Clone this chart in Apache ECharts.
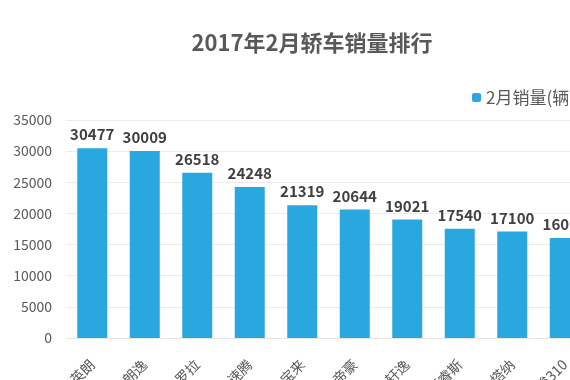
<!doctype html>
<html>

<head>
	<meta charset="utf-8">
	<title>2017年2月轿车销量排行</title>
	<script src="https://cdn.jsdelivr.net/npm/echarts@6/dist/echarts.min.js"></script>
</head>
<style>
	html,
	body {
		margin: 0;
		padding: 0;
		background: #fff;
	}

	#main {
		width: 570px;
		height: 380px;
	}
</style>

<body>
	<div id="main"></div>

	<script>
		// 车型和2月销量
		var cars = ['英朗', '朗逸', '卡罗拉', '速腾', '宝来', '帝豪', '轩逸', '福睿斯', '桑塔纳', '宝骏310']
		var sales = [30477, 30009, 26518, 24248, 21319, 20644, 19021, 17540, 17100, 16068]
		var yTicks = [0, 5000, 10000, 15000, 20000, 25000, 30000, 35000]

		var font = '"Noto Sans CJK SC", "Noto Sans", sans-serif'
		var chart = echarts.init(document.getElementById('main'))
		var option = {
			animation: false,
			title: {
				text: '2017年2月轿车销量排行',
				left: 307,
				textAlign: 'center',
				top: 27,
				textStyle: {
					fontFamily: font,
					fontSize: 22,
					fontWeight: 'bold',
					color: '#595959'
				}
			},
			legend: {
				left: 467,
				top: 84,
				itemWidth: 9,
				itemHeight: 9,
				textStyle: {
					fontFamily: font,
					fontSize: 17,
					color: '#595959'
				},
				data: ['2月销量(辆)']
			},
			grid: {
				left: 66,
				top: 120,
				width: 525,
				height: 218,
				containLabel: false,
				outerBoundsMode: 'none'
			},
			xAxis: {
				type: 'category',
				data: cars,
				axisLine: { show: true, lineStyle: { color: '#e6e6e6' } },
				axisTick: { show: false },
				axisLabel: {
					rotate: 45,
					margin: 24,
					interval: 0,
					fontFamily: font,
					fontSize: 14,
					color: '#595959'
				}
			},
			yAxis: {
				type: 'value',
				min: yTicks[0],
				max: yTicks[yTicks.length - 1],
				interval: 5000,
				axisLine: { show: false },
				axisTick: { show: false },
				axisLabel: {
					margin: 14,
					formatter: function (v) { return String(v) },
					fontFamily: font,
					fontSize: 14,
					color: '#595959'
				},
				splitLine: { lineStyle: { color: '#ececec' } }
			},
			series: [
				{
					name: '2月销量(辆)',
					type: 'bar',
					data: sales,
					barWidth: 30,
					itemStyle: { color: '#29a8e0' },
					label: {
						show: true,
						position: 'top',
						distance: 6,
						fontFamily: font,
						fontSize: 15,
						fontWeight: 'bold',
						color: '#404040'
					}
				}
			]
		}
		chart.setOption(option)
	</script>
</body>

</html>
